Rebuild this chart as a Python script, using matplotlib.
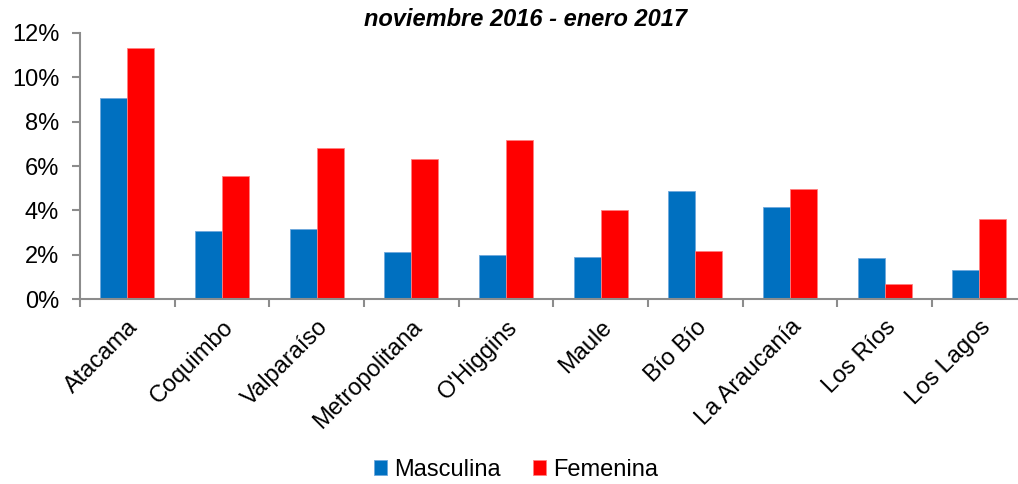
import matplotlib
matplotlib.use('Agg')
import matplotlib.pyplot as plt
import numpy as np
from matplotlib.ticker import FuncFormatter, FixedLocator

regiones = ['Atacama', 'Coquimbo', 'Valparaíso', 'Metropolitana', "O'Higgins",
            'Maule', 'Bío Bío', 'La Araucanía', 'Los Ríos', 'Los Lagos']
masculina = [9.08, 3.07, 3.17, 2.15, 2.00, 1.90, 4.88, 4.14, 1.85, 1.31]
femenina = [11.32, 5.55, 6.80, 6.30, 7.17, 4.02, 2.17, 4.95, 0.68, 3.62]
subtitulo = 'noviembre 2016 - enero 2017'

plt.rcParams['font.family'] = ['Liberation Sans', 'DejaVu Sans']
AZUL, ROJO, GRIS = '#0070C0', '#FF0000', '#8C8C8C'

fig = plt.figure(figsize=(10.18, 4.84), dpi=100)
ax = fig.add_axes([0.0786, 0.3816, 0.930, 0.5508])

x = np.arange(len(regiones))
w = 0.285
ax.bar(x - w / 2, masculina, w, color=AZUL, edgecolor='#6FA8DC', lw=0.6, label='Masculina')
ax.bar(x + w / 2, femenina, w, color=ROJO, edgecolor='#FF8080', lw=0.6, label='Femenina')

ax.set_xlim(-0.5, len(regiones) - 0.5)
ax.set_ylim(0, 12)
ax.yaxis.set_major_locator(FixedLocator(range(0, 13, 2)))
ax.yaxis.set_major_formatter(FuncFormatter(lambda v, _: f'{v:.0f}%'))

ax.set_xticks(x)
ax.set_xticklabels(regiones, rotation=45, ha='right', rotation_mode='anchor', fontsize=17)
ax.set_xticks(np.arange(len(regiones) + 1) - 0.5, minor=True)
ax.tick_params(axis='x', which='major', length=0, pad=12)
ax.tick_params(axis='x', which='minor', length=6, width=1.5, color=GRIS, direction='out')
ax.tick_params(axis='y', length=6, width=1.5, color=GRIS, labelsize=17, pad=9)

for sp in ('top', 'right'):
    ax.spines[sp].set_visible(False)
for sp in ('left', 'bottom'):
    ax.spines[sp].set_color(GRIS)
    ax.spines[sp].set_linewidth(1.5)

fig.text(0.516, 0.960, subtitulo, ha='center', va='center', fontsize=17,
         fontweight='bold', fontstyle='italic')

fig.legend(loc='center', bbox_to_anchor=(0.507, 0.029), ncol=2, frameon=False,
           fontsize=17, handlelength=0.55, handleheight=0.55, handletextpad=0.3,
           columnspacing=1.4)

fig.savefig('out.png', dpi=100)
